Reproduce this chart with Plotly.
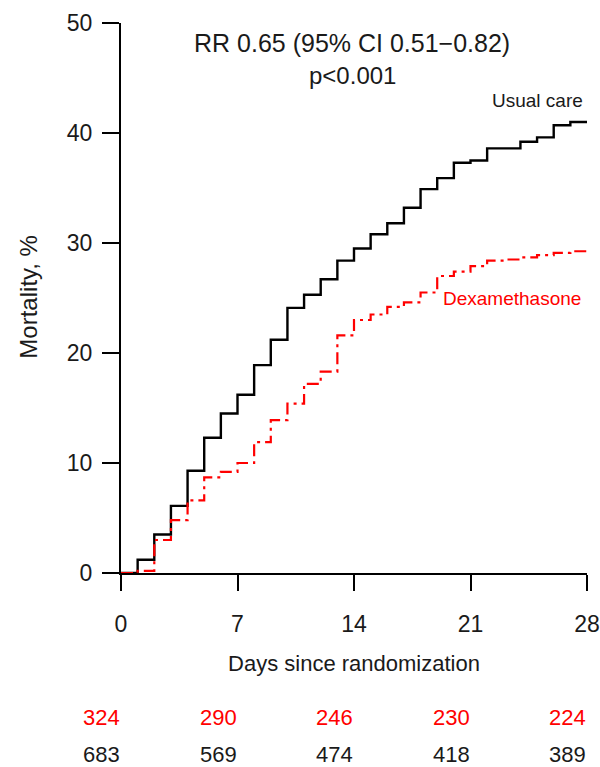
import plotly.graph_objects as go

days = list(range(0, 29))
usual_care = [0, 1.2, 3.5, 6.1, 9.3, 12.3, 14.5, 16.2, 18.9, 21.2, 24.1, 25.3, 26.7, 28.4,
              29.5, 30.8, 31.8, 33.2, 34.9, 35.9, 37.3, 37.5, 38.6, 38.6, 39.2, 39.6, 40.7,
              41.0, 41.1]
dexamethasone = [0, 0.2, 3.0, 4.8, 6.6, 8.7, 9.2, 10.0, 11.9, 13.9, 15.4, 17.2, 18.3, 21.6,
                 23.0, 23.5, 24.2, 24.6, 25.5, 27.0, 27.4, 27.9, 28.4, 28.5, 28.7, 28.9, 29.1,
                 29.25, 29.25]

tick_days = [0, 7, 14, 21, 28]
at_risk_dexa = ["324", "290", "246", "230", "224"]
at_risk_usual = ["683", "569", "474", "418", "389"]
y_ticks = [0, 10, 20, 30, 40, 50]

FONT = "Liberation Sans, Arial, sans-serif"
TXT = "#1a1a1a"
RED = "#ff0000"

fig = go.Figure()
fig.add_trace(go.Scatter(x=days, y=usual_care, mode="lines", line_shape="hv",
                         line=dict(color="#000000", width=2.4), name="Usual care",
                         showlegend=False))
fig.add_trace(go.Scatter(x=days, y=dexamethasone, mode="lines", line_shape="hv",
                         line=dict(color=RED, width=2.2, dash="12px,5px,3px,5px"),
                         name="Dexamethasone", showlegend=False))

annots = [
    dict(text="RR 0.65 (95% CI 0.51\u22120.82)", x=0.496, y=0.9636, font=dict(size=25)),
    dict(text="p<0.001", x=0.496, y=0.905, font=dict(size=24)),
    dict(text="Usual care", x=0.9957, y=0.86, xanchor="right", font=dict(size=19)),
    dict(text="Dexamethasone", x=0.991, y=0.5, xanchor="right", font=dict(size=19, color=RED)),
    dict(text="Mortality, %", x=-0.198, y=0.502, textangle=-90, font=dict(size=24)),
]
for a in annots:
    a.setdefault("xanchor", "center")
    a.update(xref="paper", yref="paper", yanchor="middle", showarrow=False)
    a["font"].setdefault("color", TXT)
    a["font"]["family"] = FONT
    fig.add_annotation(**a)

for d, n in zip(tick_days, at_risk_dexa):
    fig.add_annotation(text=n, x=d, y=-0.263, xref="x", yref="paper", xanchor="right",
                       yanchor="middle", showarrow=False, borderpad=0,
                       font=dict(size=22, color=RED, family=FONT))
for d, n in zip(tick_days, at_risk_usual):
    fig.add_annotation(text=n, x=d, y=-0.3305, xref="x", yref="paper", xanchor="right",
                       yanchor="middle", showarrow=False, borderpad=0,
                       font=dict(size=22, color=TXT, family=FONT))

fig.update_layout(
    template="none",
    width=600, height=767,
    margin=dict(l=121, r=13, t=23, b=194),
    paper_bgcolor="white", plot_bgcolor="white",
    font=dict(family=FONT, color=TXT),
    xaxis=dict(range=[0, 28], tickvals=tick_days, ticks="outside", ticklen=16, tickwidth=2,
               tickcolor="#000", showline=True, linecolor="#000", linewidth=2,
               showgrid=False, zeroline=False, tickfont=dict(size=23, color=TXT),
               ticklabelstandoff=13, automargin=False,
               title=dict(text="Days since randomization", font=dict(size=22, color=TXT),
                          standoff=20)),
    yaxis=dict(range=[0, 50], tickvals=y_ticks, ticks="outside", ticklen=17, tickwidth=2,
               tickcolor="#000", showline=True, linecolor="#000", linewidth=2,
               showgrid=False, zeroline=False, tickfont=dict(size=23, color=TXT),
               ticklabelstandoff=5, automargin=False),
)

fig.write_html("out.html")
